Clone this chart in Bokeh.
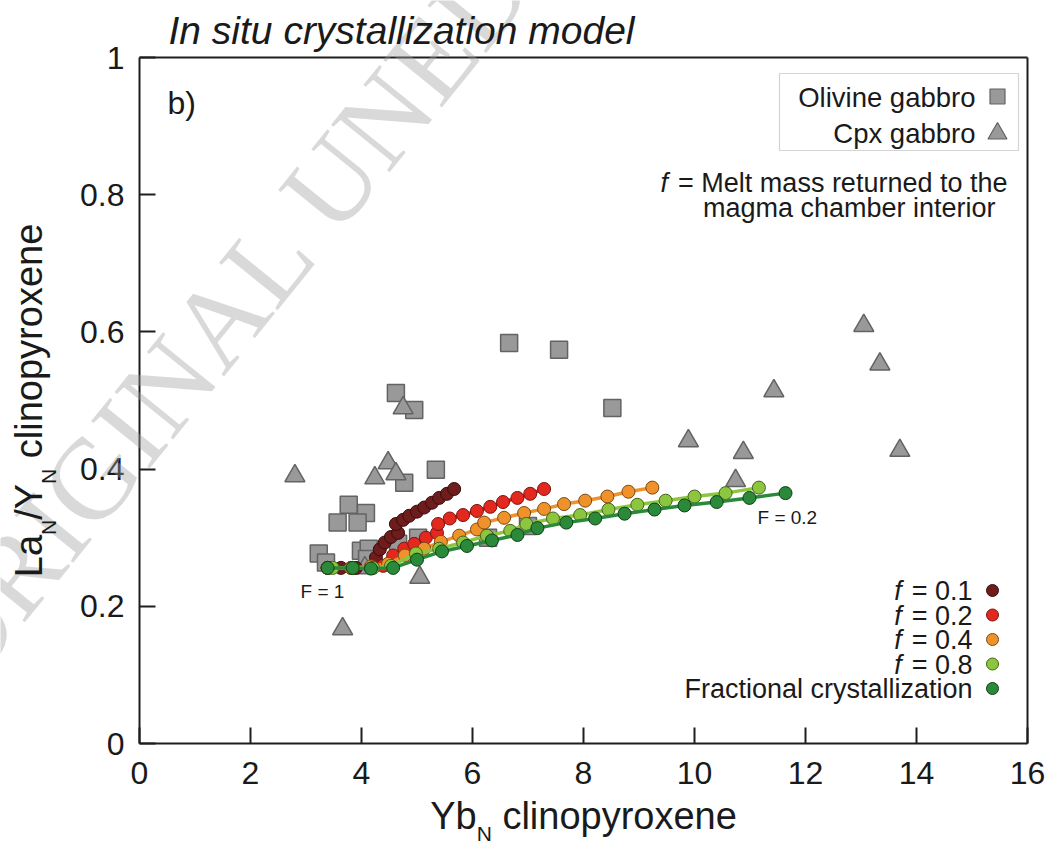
import math
from bokeh.plotting import figure
from bokeh.models import Range1d, FixedTicker, CustomJSTickFormatter, Label, BoxAnnotation, LinearAxis
from bokeh.embed import file_html
from bokeh.resources import INLINE

# ---------------- data ----------------
x_ticks = [0, 2, 4, 6, 8, 10, 12, 14, 16]
y_ticks = [0, 0.2, 0.4, 0.6, 0.8, 1]

olivine_yb = [4.62, 4.95, 5.34, 4.77, 3.77, 4.08, 3.57, 3.93, 3.23, 3.36, 3.99, 4.13, 4.10,
              5.02, 4.66, 6.28, 7.00, 6.66, 7.56, 8.52]
olivine_la = [0.511, 0.486, 0.399, 0.380, 0.348, 0.336, 0.322, 0.322, 0.277, 0.264, 0.281, 0.284,
              0.269, 0.300, 0.291, 0.300, 0.317, 0.584, 0.574, 0.489]

cpx_yb = [2.80, 4.48, 4.24, 4.62, 4.75, 5.05, 3.66, 4.06, 13.05, 13.34, 11.43, 9.89, 10.88, 13.70, 10.74]
cpx_la = [0.390, 0.409, 0.387, 0.393, 0.489, 0.242, 0.167, 0.256, 0.609, 0.553, 0.514, 0.441,
          0.424, 0.427, 0.383]

f01_yb = [3.39, 3.63, 3.90, 4.17, 4.26, 4.33, 4.42, 4.53, 4.66, 4.62, 4.75, 4.86, 5.00, 5.13,
          5.27, 5.40, 5.54, 5.67]
f01_la = [0.256, 0.256, 0.256, 0.256, 0.271, 0.283, 0.293, 0.301, 0.307, 0.320, 0.326, 0.332,
          0.338, 0.344, 0.351, 0.358, 0.364, 0.371]

f02_yb = [3.39, 3.81, 4.17, 4.39, 4.57, 4.77, 4.95, 5.16, 5.36, 5.38, 5.59, 5.83, 6.08, 6.32,
          6.55, 6.81, 7.04, 7.29]
f02_la = [0.256, 0.256, 0.256, 0.259, 0.274, 0.284, 0.291, 0.300, 0.307, 0.320, 0.328, 0.333,
          0.339, 0.345, 0.352, 0.358, 0.364, 0.371]

f04_yb = [3.39, 3.81, 4.17, 4.48, 4.78, 5.13, 5.43, 5.76, 6.08, 6.21, 6.57, 6.93, 7.29, 7.65,
          8.03, 8.43, 8.81, 9.24]
f04_la = [0.256, 0.256, 0.258, 0.262, 0.274, 0.284, 0.294, 0.303, 0.312, 0.322, 0.329, 0.336,
          0.342, 0.349, 0.354, 0.360, 0.367, 0.373]

f08_yb = [3.48, 3.84, 4.21, 4.53, 4.98, 5.40, 5.83, 6.26, 6.68, 6.97, 7.45, 7.94, 8.45, 8.97,
          9.48, 10.00, 10.56, 11.16]
f08_la = [0.256, 0.256, 0.256, 0.259, 0.277, 0.284, 0.293, 0.303, 0.310, 0.320, 0.328, 0.333,
          0.341, 0.348, 0.354, 0.360, 0.365, 0.373]

fc_yb = [3.39, 3.84, 4.17, 4.57, 5.00, 5.45, 5.90, 6.35, 6.81, 7.17, 7.69, 8.21, 8.74, 9.28,
         9.82, 10.40, 10.99, 11.64]
fc_la = [0.256, 0.256, 0.255, 0.256, 0.268, 0.280, 0.288, 0.296, 0.304, 0.314, 0.322, 0.328,
         0.335, 0.341, 0.347, 0.352, 0.358, 0.365]

model_labels = ["f = 0.1", "f = 0.2", "f = 0.4", "f = 0.8", "Fractional crystallization"]

# ---------------- layout helpers ----------------
W, H = 1052, 846                                          # canvas = frame
AX_L, AX_T, AX_W, AX_H = 139, 57, 888, 686                # plot box in canvas pixels
X_MAX, Y_MAX = 16.0, 1.0
BASE_K = 0.34                                             # baseline correction (em)


def dx(px):
    return (px - AX_L) * X_MAX / AX_W


def dy(py):
    return (AX_T + AX_H - py) * Y_MAX / AX_H


ADV = {' ': 278, '=': 584, '.': 278, '/': 278, ')': 333, 'a': 556, 'b': 556, 'c': 500, 'd': 556,
       'e': 556, 'f': 278, 'g': 556, 'h': 556, 'i': 222, 'l': 222, 'm': 833, 'n': 556, 'o': 556,
       'p': 556, 'r': 333, 's': 500, 't': 278, 'u': 556, 'v': 500, 'x': 500, 'y': 500, 'z': 500,
       'C': 722, 'F': 611, 'L': 556, 'M': 833, 'N': 722, 'O': 778, 'Y': 667}


def tw(s, size):
    return sum(ADV.get(c, 556) for c in s) / 1000.0 * size


FONT = "Liberation Sans"
INK = "#1a1a1a"
FRAME_COL = "#1e1e1e"

p = figure(width=W, height=H,
           x_range=Range1d(dx(0), dx(W)), y_range=Range1d(dy(H), dy(0)),
           x_axis_location=None, y_axis_location=None,
           min_border=0, min_border_left=0, min_border_right=0,
           min_border_top=0, min_border_bottom=0,
           output_backend="svg", toolbar_location=None, tools="")
p.background_fill_color = "white"
p.border_fill_color = "white"
p.outline_line_color = None
p.grid.visible = False

fmt = CustomJSTickFormatter(code="return String(Math.round(tick*10)/10)")


def style_axis(ax, standoff):
    ax.axis_line_color = FRAME_COL
    ax.axis_line_width = 2
    ax.major_tick_line_color = FRAME_COL
    ax.major_tick_line_width = 2
    ax.major_tick_in = 16
    ax.major_tick_out = 0
    ax.minor_tick_line_color = None
    ax.major_label_text_font = FONT
    ax.major_label_text_font_size = "32px"
    ax.major_label_text_color = INK
    ax.major_label_standoff = standoff


xaxis = LinearAxis(fixed_location=0, bounds=(0, X_MAX), ticker=FixedTicker(ticks=x_ticks), formatter=fmt)
style_axis(xaxis, 18)
p.add_layout(xaxis, "below")
yaxis = LinearAxis(fixed_location=0, bounds=(0, Y_MAX), ticker=FixedTicker(ticks=y_ticks), formatter=fmt)
style_axis(yaxis, 15)
p.add_layout(yaxis, "left")

# top and right edges of the plot box
for loc, side, bnds in ((Y_MAX, "above", (0, X_MAX)), (X_MAX, "right", (0, Y_MAX))):
    edge = LinearAxis(fixed_location=loc, bounds=bnds, ticker=FixedTicker(ticks=[]),
                      axis_line_color=FRAME_COL, axis_line_width=2,
                      major_tick_line_color=None, minor_tick_line_color=None)
    p.add_layout(edge, side)


def lab(px, py, text, size, align="left", style="normal", font=FONT, color=INK, angle=0.0, alpha=1.0):
    # px, py = wanted baseline anchor in canvas pixels
    ax_ = px - BASE_K * size * math.sin(angle)
    ay_ = py - BASE_K * size * math.cos(angle)
    p.add_layout(Label(x=dx(ax_), y=dy(ay_), text=text, text_font=font,
                       text_font_size="%.1fpx" % size, text_font_style=style,
                       text_color=color, text_alpha=alpha, text_align=align,
                       text_baseline="alphabetic", angle=angle, angle_units="rad"))


# watermark (faint, behind data)
lab(-30, 690, "ORIGINAL UNEDITED", 115, font="Liberation Serif", color="#a0a0a0",
    angle=math.radians(51), alpha=0.4)

# ---------------- samples ----------------
GRAY_FILL, GRAY_LINE = "#999999", "#636363"
p.scatter(olivine_yb, olivine_la, marker="square", size=17, fill_color=GRAY_FILL,
          line_color=GRAY_LINE, line_width=1.5)
p.scatter(cpx_yb, cpx_la, marker="triangle", size=20, fill_color=GRAY_FILL,
          line_color=GRAY_LINE, line_width=1.5)

# ---------------- model curves ----------------
series = [
    (f01_yb, f01_la, "#6e1c1c", "#3a0c0c"),
    (f02_yb, f02_la, "#e2281f", "#7a1510"),
    (f04_yb, f04_la, "#f0922b", "#7a4a12"),
    (f08_yb, f08_la, "#8cc63f", "#44631a"),
    (fc_yb, fc_la, "#2a8a3a", "#113f18"),
]
for xs, ys, col, edge in series:
    p.line(xs, ys, line_color=col, line_width=3.5)
    p.scatter(xs, ys, marker="circle", size=13, fill_color=col, line_color=edge, line_width=1)

# title and panel letter
lab(168, 43, "In situ crystallization model", 39, style="italic")
lab(167, 113, "b)", 32)

# sample legend box
p.add_layout(BoxAnnotation(left=dx(779), right=dx(1018), top=dy(73), bottom=dy(150),
                           fill_alpha=0, line_color="#707070", line_width=1.2))
lab(975, 106, "Olivine gabbro", 27.5, align="right")
lab(975, 142, "Cpx gabbro", 27.5, align="right")
p.scatter([dx(997)], [dy(96)], marker="square", size=15, fill_color=GRAY_FILL,
          line_color=GRAY_LINE, line_width=1.2)
p.scatter([dx(997)], [dy(133)], marker="triangle", size=19, fill_color=GRAY_FILL,
          line_color=GRAY_LINE, line_width=1.2)

# f definition
rest = "= Melt mass returned to the"
lab(1007, 192, rest, 27, align="right")
lab(1007 - tw(rest, 27) - 10, 192, "f", 27, align="right", style="italic")
lab(995, 217, "magma chamber interior", 27, align="right")

# model legend
rows_y = [590, 614.5, 639, 663.5, 688]
for (xs, ys, col, edge), txt, cy in zip(series, model_labels, rows_y):
    if txt.startswith("f"):
        tail = txt[2:]
        lab(972, cy + 10, tail, 27, align="right")
        lab(972 - tw(tail, 27) - 10, cy + 10, "f", 27, align="right", style="italic")
    else:
        lab(972, cy + 10, txt, 27, align="right")
    p.scatter([dx(992)], [dy(cy)], marker="circle", size=12, fill_color=col,
              line_color=edge, line_width=1)

# F annotations
lab(300, 597, "F = 1", 19)
lab(757, 523, "F = 0.2", 19)

# x axis title with subscript
BIG, SUB = 38, 21
xparts = [("Yb", BIG, 0), ("N", SUB, 12), (" clinopyroxene", BIG, 0)]
total = sum(tw(t, s) for t, s, _ in xparts)
cx = (AX_L + AX_L + AX_W) / 2.0 - total / 2.0
for t, s, off in xparts:
    lead = len(t) - len(t.lstrip(" "))
    lab(cx + tw(" " * lead, s), 828 + off, t.strip(), s)
    cx += tw(t, s)

# y axis title with subscripts (rotated)
yparts = [("La", BIG, 0), ("N", SUB, 14), ("/Y", BIG, 0), ("N", SUB, 14), (" clinopyroxene", BIG, 0)]
total = sum(tw(t, s) for t, s, _ in yparts)
cy = (AX_T + AX_T + AX_H) / 2.0 + total / 2.0
for t, s, off in yparts:
    lead = len(t) - len(t.lstrip(" "))
    lab(41 + off, cy - tw(" " * lead, s), t.strip(), s, angle=math.pi / 2)
    cy -= tw(t, s)

open("out.html", "w").write(file_html(p, INLINE))
